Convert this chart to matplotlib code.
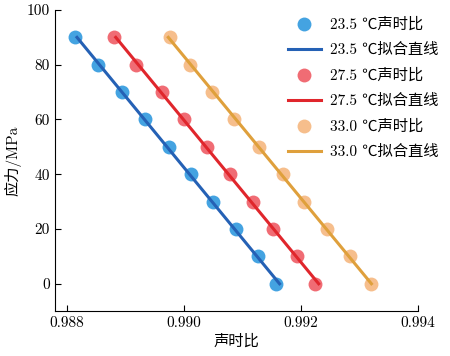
import numpy as np
import matplotlib
matplotlib.use('Agg')
import matplotlib.pyplot as plt

plt.rcParams['font.family'] = ['cmr10', 'Noto Sans CJK SC', 'DejaVu Sans']
plt.rcParams['mathtext.fontset'] = 'cm'
plt.rcParams['axes.unicode_minus'] = False

# stress (MPa) and sound-time ratio
stress = [90, 80, 70, 60, 50, 40, 30, 20, 10, 0]
ratio_235 = [0.98815, 0.98854, 0.98895, 0.98933, 0.98975, 0.99012, 0.99050, 0.99089, 0.99126, 0.99157]
ratio_275 = [0.98881, 0.98919, 0.98963, 0.99000, 0.99040, 0.99079, 0.99119, 0.99153, 0.99193, 0.99224]
ratio_330 = [0.98977, 0.99011, 0.99049, 0.99085, 0.99128, 0.99169, 0.99205, 0.99244, 0.99283, 0.99319]

temps = ['23.5', '27.5', '33.0']
point_colors = ['#3a9ee0', '#f0646c', '#f6bb86']
line_colors = ['#2561b5', '#e0262c', '#dfa03c']

fig = plt.figure(figsize=(4.5, 3.56), dpi=100)
ax = fig.add_axes([0.122, 0.126, 0.807, 0.846])

for t, r, pc, lc in zip(temps, [ratio_235, ratio_275, ratio_330], point_colors, line_colors):
    ax.plot(r, stress, 'o', color=pc, ms=10, alpha=0.95, mec='none',
            label=t + ' ℃声时比')
    k, b = np.polyfit(stress, r, 1)
    fit = [k * s + b for s in stress]
    ax.plot(fit, stress, '-', color=lc, lw=2.2, label=t + ' ℃拟合直线')

ax.set_xlim(0.9878, 0.994)
ax.set_ylim(-10, 100)
ax.set_xticks([0.988, 0.990, 0.992, 0.994])
ax.set_xticklabels(['0.988', '0.990', '0.992', '0.994'])
ax.set_yticks([0, 20, 40, 60, 80, 100])
ax.tick_params(direction='in', labelsize=11, length=4.5, width=0.8)
ax.spines['top'].set_visible(False)
ax.spines['right'].set_visible(False)
ax.set_xlabel('声时比', fontsize=11, labelpad=3)
ax.set_ylabel('应力/MPa', fontsize=11, labelpad=4)

ax.legend(loc='upper right', bbox_to_anchor=(1.095, 1.02), frameon=False, fontsize=11,
          handlelength=2.2, handletextpad=0.6, labelspacing=0.74)

fig.savefig('out.png', dpi=100)
